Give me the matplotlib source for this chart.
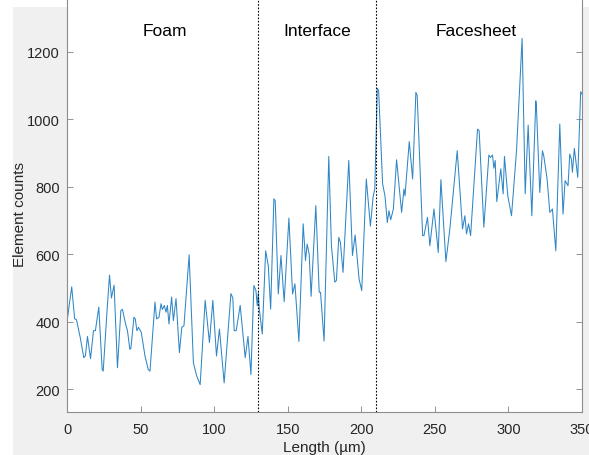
import matplotlib
matplotlib.use("Agg")
import matplotlib.pyplot as plt
from matplotlib.patches import Rectangle

plt.rcParams['font.family'] = ['Liberation Sans', 'DejaVu Sans']

length_um = [0, 3.2, 5.2, 6.4, 9, 11.4, 12.5, 13.9, 16, 18, 19.3, 21.6, 23.9, 24.6, 27.3, 28.9, 30.2, 32,
             34.3, 36.6, 37.7, 39.8, 41.1, 42.7, 43.4, 45.5, 46.4, 47.5, 48.6, 50.5, 53, 55.2, 56.4, 59.8,
             60.9, 62.5, 63.9, 64.8, 66.1, 67.3, 68.2, 69.3, 71.1, 72.3, 74.1, 76.4, 78, 79.5, 83, 85.9,
             88.2, 90.5, 93.9, 96.8, 99.1, 101.6, 103.6, 106.8, 111.4, 112.7, 113.6, 115, 117.7, 121.1,
             123, 125, 127, 128.4, 129.3, 130, 130.7, 132.7, 135, 136.8, 138.4, 140.6, 141.5, 143.6,
             145.4, 147.6, 150.8, 153.3, 154.9, 157.6, 160.5, 162.1, 163.2, 164.6, 165.9, 169.1, 171.4,
             172.3, 174.7, 177.9, 179.7, 182, 183.1, 184.7, 185.8, 187.6, 191.5, 194, 195.8, 198.5,
             200.3, 203.4, 206.2, 208, 209.2, 210.9, 211.8, 213.2, 214.5, 216.1, 217.7, 218.8, 220,
             221.8, 224, 227.4, 229, 229.7, 232.6, 234.9, 237.1, 238, 241.7, 242.6, 245, 246.6, 249.4,
             252.3, 254.1, 257.5, 260.2, 265.2, 268.8, 270.4, 271.5, 272.9, 274.3, 279, 280.1, 283.3,
             286.7, 287.8, 289.2, 290.1, 291, 292.1, 294.8, 296.4, 297.3, 299.6, 302.1, 305.5, 309.3,
             311.4, 313.4, 315.9, 318.6, 319, 321.3, 323.1, 324, 326.3, 328.1, 329.9, 332.2, 334.9,
             337.1, 338.5, 340.5, 341.7, 342.8, 343.5, 344.8, 347.1, 349.1, 350]
counts = [400, 503, 408, 406, 353, 293, 298, 356, 290, 373, 373, 443, 258, 253, 438, 538, 470, 508,
          263, 433, 436, 393, 373, 318, 320, 413, 408, 373, 383, 368, 298, 258, 253, 458,
          408, 413, 453, 436, 448, 428, 448, 393, 473, 403, 468, 308, 383, 388, 598, 278,
          238, 213, 463, 338, 463, 298, 378, 218, 483, 470, 373, 373, 448, 293,
          356, 243, 507, 492, 447, 485, 437, 363, 610, 566, 437, 764, 759, 482,
          596, 459, 707, 482, 512, 341, 690, 581, 630, 600, 475, 744, 487,
          487, 342, 890, 625, 517, 522, 650, 635, 546, 878, 596, 657, 526,
          492, 823, 683, 769, 795, 1092, 1085, 942, 808, 773, 694, 729, 702,
          734, 880, 724, 793, 773, 934, 823, 1080, 1070, 655, 655, 709, 625, 734,
          605, 821, 578, 675, 907, 675, 714, 660, 690, 655, 971, 966, 680,
          894, 887, 894, 855, 878, 756, 853, 779, 890, 772, 714, 907, 1240,
          779, 983, 714, 1055, 1040, 783, 907, 892, 823, 724, 734, 610, 986,
          719, 818, 803, 897, 882, 843, 914, 828, 1082, 1075]

boundaries = [130, 210]
region_names = ["Foam", "Interface", "Facesheet"]
region_x = [66.5, 170, 278]
region_y = 1265

x_ticks = [0, 50, 100, 150, 200, 250, 300, 350]
y_ticks = [200, 400, 600, 800, 1000, 1200]

W, H = 589, 456
fig = plt.figure(figsize=(W / 100, H / 100), dpi=100, facecolor='white')
fig.patches.append(Rectangle((13 / W, 0), 1 - 13 / W, 448 / H, transform=fig.transFigure,
                             facecolor='#f0f0f0', edgecolor='none', zorder=-10))

ax = fig.add_axes([67 / W, (H - 413) / H, 515 / W, 413 / H])
ax.set_facecolor('white')
ax.plot(length_um, counts, color='#2f86c6', linewidth=0.75)
for b in boundaries:
    ax.axvline(b, color='black', linestyle=(0, (1.5, 1.5)), linewidth=0.8)
for name, xx in zip(region_names, region_x):
    ax.text(xx, region_y, name, ha='center', va='center', fontsize=12.5, color='black')

ax.set_xlim(0, 350)
ax.set_ylim(131.8, 1357)
ax.set_xticks(x_ticks)
ax.set_yticks(y_ticks)
ax.tick_params(direction='in', length=4, width=0.6, colors='#808080', labelcolor='#262626',
               labelsize=10.5, right=True, top=False)
ax.tick_params(axis='x', pad=7)
ax.tick_params(axis='y', pad=5)
for s in ['left', 'right', 'bottom']:
    ax.spines[s].set_color('#8c8c8c')
    ax.spines[s].set_linewidth(0.8)
ax.spines['top'].set_visible(False)

ax.set_xlabel('Length (µm)', fontsize=11, color='#262626')
ax.set_ylabel('Element counts', fontsize=11, color='#262626')
ax.xaxis.set_label_coords(0.5, -0.068)
ax.yaxis.set_label_coords(-0.077, 0.48)

fig.savefig('out.png', dpi=100, facecolor=fig.get_facecolor())
